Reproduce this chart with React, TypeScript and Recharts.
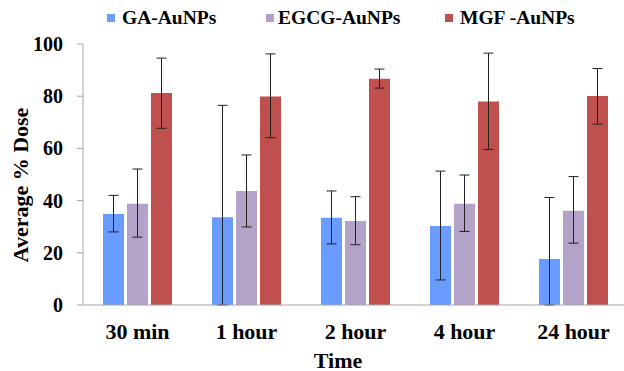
import React from 'react';
import { BarChart, Bar, XAxis, YAxis, Legend, ErrorBar } from 'recharts';

const categories = ['30 min', '1 hour', '2 hour', '4 hour', '24 hour'];
const seriesNames = ['GA-AuNPs', 'EGCG-AuNPs', 'MGF -AuNPs'];
const seriesColors = ['#6a9bff', '#b3a3c8', '#c0504d'];

const gaValues = [34.9, 33.6, 33.4, 30.3, 17.6];
const egcgValues = [38.8, 43.7, 32.2, 38.8, 36.1];
const mgfValues = [81.2, 79.9, 86.7, 78.0, 80.1];

// [minus, plus] error for each time point
const gaErrors = [[6.9, 7.1], [33.6, 42.9], [10.0, 10.3], [20.7, 21.0], [17.6, 23.6]];
const egcgErrors = [[12.8, 13.3], [13.8, 13.8], [9.1, 9.3], [10.6, 11.0], [12.4, 13.1]];
const mgfErrors = [[13.5, 13.4], [15.8, 16.3], [3.6, 3.7], [18.4, 18.5], [10.8, 10.5]];

const yTicks = [0, 20, 40, 60, 80, 100];
const boundaryTicks = [0, 1, 2, 3, 4, 5];

const data = categories.map((time, i) => ({
  time,
  ga: gaValues[i],
  gaErr: gaErrors[i],
  egcg: egcgValues[i],
  egcgErr: egcgErrors[i],
  mgf: mgfValues[i],
  mgfErr: mgfErrors[i],
}));

const font = "'Liberation Serif', 'Times New Roman', serif";
const axisColor = '#a6a6a6';
const legendSquareX = [107, 266, 445];
const legendTextX = [122, 278, 460];

const textStyle = { fontFamily: font, fontWeight: 700, fill: '#000' };

const renderLegend = () => (
  <div style={{ position: 'relative', width: 624, height: 30, fontFamily: font, fontWeight: 'bold', fontSize: 19.5 }}>
    {seriesNames.map((name, i) => (
      <React.Fragment key={name}>
        <span style={{ position: 'absolute', left: legendSquareX[i], top: 10, width: 8, height: 8, background: seriesColors[i] }} />
        <span style={{ position: 'absolute', left: legendTextX[i], top: 0, lineHeight: '28px', color: '#000', whiteSpace: 'nowrap' }}>{name}</span>
      </React.Fragment>
    ))}
  </div>
);

const XTick = (props: any) => {
  const { x, y, payload } = props;
  return (
    <text x={x} y={y} textAnchor="middle" dominantBaseline="central" fontSize={22} style={textStyle}>
      {payload.value}
    </text>
  );
};

const YTick = (props: any) => {
  const { x, y, payload } = props;
  return (
    <text x={x} y={y} textAnchor="end" dominantBaseline="central" fontSize={20} style={textStyle}>
      {payload.value}
    </text>
  );
};

const YLabel = () => (
  <text
    transform="translate(20,185) rotate(-90)"
    textAnchor="middle"
    dominantBaseline="central"
    fontSize={22}
    style={textStyle}
  >
    Average % Dose
  </text>
);

const XLabel = () => (
  <text x={338} y={360} textAnchor="middle" dominantBaseline="central" fontSize={22} style={textStyle}>
    Time
  </text>
);

export default function App() {
  return (
    <div style={{ position: 'absolute', left: 0, top: 0, background: '#fff' }}>
      <BarChart
        width={624}
        height={371}
        data={data}
        margin={{ top: 44, right: -4, bottom: 0, left: 0 }}
        barSize={21}
        barGap={3}
      >
        <Legend
          verticalAlign="middle"
          layout="horizontal"
          content={renderLegend}
          wrapperStyle={{ top: 4, left: 0, width: 624 }}
        />
        <XAxis
          xAxisId="bounds"
          type="number"
          domain={[0, 5]}
          ticks={boundaryTicks}
          tick={false}
          axisLine={false}
          tickLine={{ stroke: axisColor }}
          tickSize={6}
          height={0}
        />
        <XAxis
          dataKey="time"
          tickLine={false}
          tickSize={0}
          tickMargin={26}
          axisLine={{ stroke: axisColor }}
          tick={<XTick />}
          height={66}
          label={<XLabel />}
        />
        <YAxis
          domain={[0, 100]}
          ticks={yTicks}
          width={83}
          tickSize={6}
          tickMargin={14}
          axisLine={{ stroke: axisColor }}
          tickLine={{ stroke: axisColor }}
          tick={<YTick />}
          label={<YLabel />}
        />
        <Bar dataKey="ga" name={seriesNames[0]} fill={seriesColors[0]} isAnimationActive={false}>
          <ErrorBar dataKey="gaErr" width={5} stroke="#222" strokeWidth={1} />
        </Bar>
        <Bar dataKey="egcg" name={seriesNames[1]} fill={seriesColors[1]} isAnimationActive={false}>
          <ErrorBar dataKey="egcgErr" width={5} stroke="#222" strokeWidth={1} />
        </Bar>
        <Bar dataKey="mgf" name={seriesNames[2]} fill={seriesColors[2]} isAnimationActive={false}>
          <ErrorBar dataKey="mgfErr" width={5} stroke="#222" strokeWidth={1} />
        </Bar>
      </BarChart>
    </div>
  );
}
